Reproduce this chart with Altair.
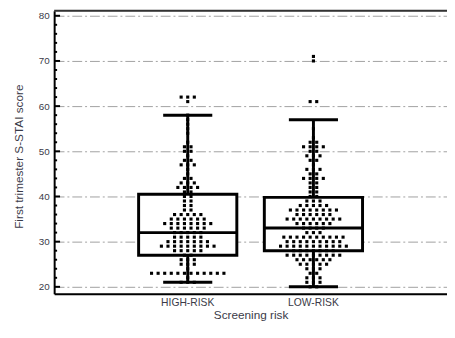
import altair as alt
import pandas as pd

# ---- data ----
groups = ["HIGH-RISK", "LOW-RISK"]
q1 = [27, 28]
medians = [32, 33]
q3 = [40.5, 39.8]
whisk_lo = [21, 20]
whisk_hi = [58, 57]

high_scores = [21, 22, 23, 24, 25, 26, 27, 28, 29, 30, 31, 32, 33, 34, 35, 36, 37, 38, 39, 40,
               41, 42, 43, 44, 45, 46, 47, 48, 49, 50, 51, 52, 54, 55, 56, 57, 58, 61, 62]
high_counts = [3, 1, 12, 1, 3, 3, 2, 5, 9, 7, 5, 5, 6, 8, 6, 5, 2, 2, 2, 2,
               2, 4, 3, 2, 1, 1, 3, 2, 1, 2, 2, 1, 1, 1, 1, 1, 1, 1, 3]

low_scores = [20, 21, 22, 23, 24, 25, 26, 27, 28, 29, 30, 31, 32, 33, 34, 35, 36, 37, 38, 39,
              40, 41, 42, 43, 44, 45, 46, 47, 48, 49, 50, 51, 52, 53, 55, 61, 70, 71]
low_counts = [2, 3, 3, 2, 3, 5, 6, 9, 7, 11, 9, 10, 3, 4, 6, 9, 6, 8, 5, 3,
              2, 2, 2, 2, 4, 2, 3, 1, 2, 3, 2, 4, 2, 1, 1, 2, 1, 1]

major_ticks = [20, 30, 40, 50, 60, 70, 80]
minor_ticks = [22, 24, 26, 28, 32, 34, 36, 38, 42, 44, 46, 48, 52, 54, 56, 58,
               62, 64, 66, 68, 72, 74, 76, 78]

# ---- tables built from the arrays ----
box_df = pd.DataFrame({"group": groups, "q1": q1, "median": medians, "q3": q3,
                       "lo": whisk_lo, "hi": whisk_hi})

rows = []
for g, scores, counts in [(groups[0], high_scores, high_counts), (groups[1], low_scores, low_counts)]:
    for s, n in zip(scores, counts):
        for k in range(n):
            rows.append({"group": g, "score": s, "slot": k - (n - 1) / 2})
dots_df = pd.DataFrame(rows)

major_df = pd.DataFrame({"v": major_ticks})
minor_df = pd.DataFrame({"v": minor_ticks})

TXT = "#3a3a48"
FONT = "Liberation Sans"
W, H = 400, 288

xscale = alt.Scale(domain=groups, paddingInner=0, paddingOuter=0.5625)
yscale = alt.Scale(domain=[18.48, 81.09], nice=False, zero=False)

xaxis = alt.Axis(title="Screening risk", labelAngle=0, ticks=False, grid=False,
                 domainColor="black", domainWidth=2, labelFontSize=10.5, labelPadding=4,
                 labelColor=TXT, titleColor=TXT, titleFontSize=12, titleFontWeight="normal",
                 titlePadding=2, labelFont=FONT, titleFont=FONT)
yaxis = alt.Axis(title="First trimester S-STAI score", values=major_ticks, grid=True,
                 gridDash=[10, 3, 2, 3], gridColor="#a0a0a0", gridWidth=1, ticks=False,
                 domainColor="black", domainWidth=2, labelFontSize=10, labelPadding=5,
                 labelColor=TXT, titleColor=TXT, titleFontSize=12, titleFontWeight="normal",
                 titleX=-29, titleY=148, labelFont=FONT, titleFont=FONT)

X = alt.X("group:N", scale=xscale, axis=xaxis, sort=groups)

def Y(field):
    return alt.Y(field, type="quantitative", scale=yscale, axis=yaxis)

base = alt.Chart(box_df)

box = base.mark_bar(size=100, fill="white", stroke="black",
                    strokeWidth=3).encode(x=X, y=Y("q1"), y2="q3:Q")
wh_up = base.mark_rule(color="black", strokeWidth=3).encode(x=X, y=Y("q3"), y2="hi:Q")
wh_dn = base.mark_rule(color="black", strokeWidth=3).encode(x=X, y=Y("lo"), y2="q1:Q")
cap_hi = base.mark_tick(color="black", size=50, thickness=3, opacity=1).encode(x=X, y=Y("hi"))
cap_lo = base.mark_tick(color="black", size=50, thickness=3, opacity=1).encode(x=X, y=Y("lo"))
med = base.mark_tick(color="black", size=100, thickness=3, opacity=1).encode(x=X, y=Y("median"))

dots = alt.Chart(dots_df).mark_square(size=10, color="black", opacity=1).encode(
    x=X,
    xOffset=alt.XOffset("slot:Q", scale=alt.Scale(domain=[-9.55, 9.55])),
    y=Y("score"),
)

tick_major = alt.Chart(major_df).mark_rule(color="black", strokeWidth=2).encode(
    y=Y("v"), x=alt.value(0), x2=alt.value(6))
tick_minor = alt.Chart(minor_df).mark_rule(color="black", strokeWidth=2).encode(
    y=Y("v"), x=alt.value(0), x2=alt.value(3))

top_line = alt.Chart(pd.DataFrame({"a": [0]})).mark_rule(color="#333333", strokeWidth=2).encode(
    x=alt.value(0), x2=alt.value(W), y=alt.value(0))

chart = alt.layer(box, wh_up, wh_dn, cap_hi, cap_lo, dots, med, tick_major, tick_minor, top_line).properties(
    width=W, height=H,
    autosize=alt.AutoSizeParams(type="none"),
    padding={"left": 47, "top": 0, "right": 0, "bottom": 30},
).configure_view(stroke=None).configure(background="white")

chart.save("out.html", embed_options={"renderer": "svg", "actions": False})
